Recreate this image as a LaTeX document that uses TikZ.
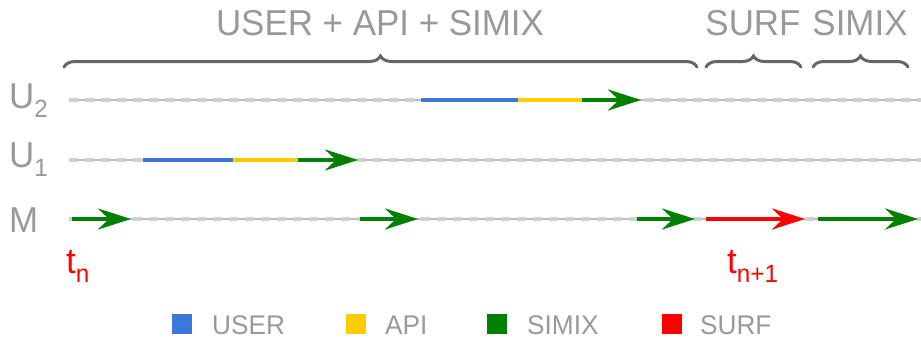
\documentclass[tikz,border=0pt]{standalone}
\usepackage{fontspec}
\setmainfont[FakeStretch=0.97]{Liberation Sans}
\usetikzlibrary{arrows.meta,decorations.pathreplacing}

\definecolor{txtgray}{HTML}{999999}
\definecolor{bracegray}{HTML}{666666}
\definecolor{linegray}{HTML}{BBBBBB}
\definecolor{dashgray}{HTML}{D0D0D0}
\definecolor{userblue}{HTML}{3C78D8}
\definecolor{apiyellow}{HTML}{FFCC00}
\definecolor{simixgreen}{HTML}{008000}
\definecolor{surfred}{HTML}{FF0000}

\newcommand{\rowidx}[1]{\raisebox{-9pt}{\fontsize{25}{26}\selectfont #1}}

\tikzset{
  bigtxt/.style={font=\fontsize{36}{40}\selectfont, inner sep=0pt, text=txtgray},
  legtxt/.style={font=\fontsize{27}{30}\selectfont, inner sep=0pt, text=txtgray, anchor=base west},
  legbox/.style={minimum size=20pt, inner sep=0pt},
  timeline/.style={draw=linegray, line width=1.2pt,
    postaction={draw=dashgray, line width=4pt, dash pattern=on 9pt off 7pt}},
  phase/.style={line width=4pt},
  call/.style={phase, -{Stealth[length=33pt,width=21pt,inset=11pt]}},
  span/.style={decorate, decoration={brace, amplitude=11pt},
    draw=bracegray, line width=3pt, line cap=round},
}

\begin{document}
\begin{tikzpicture}[x=1pt, y=-1pt]
    \useasboundingbox (0,0) rectangle (921,340);

    % Phase titles and braces
    \node[bigtxt, anchor=base] (title) at (380,35) {USER + API + SIMIX};
    \node[bigtxt, anchor=base] (surf) at (753,35) {SURF};
    \node[bigtxt, anchor=base] (simix) at (860,35) {SIMIX};
    \coordinate (b1s) at (64,67);  \coordinate (b1e) at (697,67);
    \coordinate (b2s) at (706,67); \coordinate (b2e) at (801,67);
    \coordinate (b3s) at (813,67); \coordinate (b3e) at (908,67);
    \draw[span] (b1s) -- (b1e);
    \draw[span] (b2s) -- (b2e);
    \draw[span] (b3s) -- (b3e);

    % Rows
    \node[bigtxt, anchor=base west] (u2) at (9,108) {U\rowidx{2}};
    \node[bigtxt, anchor=base west] (u1) at (9,167) {U\rowidx{1}};
    \node[bigtxt, anchor=base west] (m) at (9,232) {M};
    \foreach \r/\y in {u2/100, u1/160, m/219} {
        \coordinate (\r s) at (69,\y);
        \coordinate (\r e) at (921,\y);
        \draw[timeline] (\r s) -- (\r e);
    }

    % U2
    \coordinate (u2a) at (421,100);
    \coordinate (u2b) at (518,100);
    \coordinate (u2c) at (582,100);
    \coordinate (u2d) at (641,100);
    \draw[phase, userblue] (u2a) -- (u2b);
    \draw[phase, apiyellow] (u2b) -- (u2c);
    \draw[call, simixgreen] (u2c) -- (u2d);

    % U1
    \coordinate (u1a) at (143,160);
    \coordinate (u1b) at (233,160);
    \coordinate (u1c) at (298,160);
    \coordinate (u1d) at (358,160);
    \draw[phase, userblue] (u1a) -- (u1b);
    \draw[phase, apiyellow] (u1b) -- (u1c);
    \draw[call, simixgreen] (u1c) -- (u1d);

    % M
    \foreach \a/\b/\c [count=\i] in {72/131/simixgreen, 360/418/simixgreen,
        637/695/simixgreen, 706/805/surfred, 818/918/simixgreen} {
        \coordinate (m\i s) at (\a,219);
        \coordinate (m\i e) at (\b,219);
        \draw[call, \c] (m\i s) -- (m\i e);
    }

    % Time steps
    \node[bigtxt, text=surfred, anchor=base west] (tn) at (66,273) {t\rowidx{n}};
    \node[bigtxt, text=surfred, anchor=base west] (tnn) at (727,273) {t\rowidx{n+1}};

    % Legend
    \node[legbox, fill=userblue] (kuser) at (182,324) {};
    \node[legtxt] (luser) at (212,334) {USER};
    \node[legbox, fill=apiyellow] (kapi) at (356,324) {};
    \node[legtxt] (lapi) at (385,334) {API};
    \node[legbox, fill=simixgreen] (ksimix) at (497,324) {};
    \node[legtxt] (lsimix) at (527,334) {SIMIX};
    \node[legbox, fill=surfred] (ksurf) at (672,324) {};
    \node[legtxt] (lsurf) at (700,334) {SURF};
\end{tikzpicture}
\end{document}
